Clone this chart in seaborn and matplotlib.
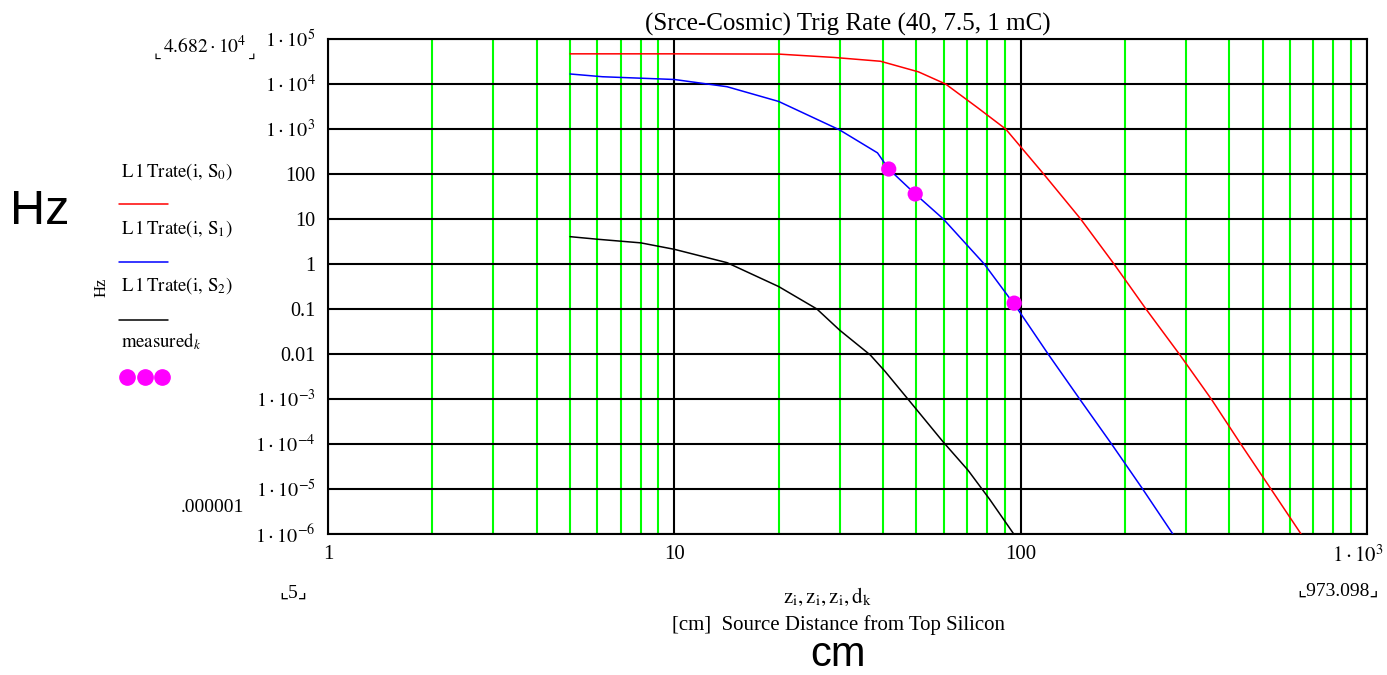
import numpy as np
import pandas as pd
import seaborn as sns
import matplotlib.pyplot as plt
from matplotlib.lines import Line2D
from matplotlib.transforms import ScaledTranslation

# curve readings (x in cm, rate in Hz)
x_s0 = [5, 10, 20, 28.8, 39.4, 50.7, 60.7, 75, 90.5, 116.5, 149, 186, 230, 287, 355, 432, 528, 645]
y_s0 = [4.68e4, 4.68e4, 4.62e4, 3.9e4, 3.2e4, 1.86e4, 1.0e4, 3.0e3, 1e3, 1e2, 10, 1, 0.1, 1e-2, 1e-3, 1e-4, 1e-5, 1e-6]

x_s1 = [5, 6.2, 10, 14.2, 20, 30, 38.6, 41.6, 49.6, 59.8, 78.5, 98, 120, 148, 183, 225, 275]
y_s1 = [1.67e4, 1.45e4, 1.26e4, 8.7e3, 4.1e3, 955, 295, 129, 36, 10, 1, 0.1, 1e-2, 1e-3, 1e-4, 1e-5, 1e-6]

x_s2 = [5, 6, 8, 10, 14.2, 20, 25.8, 30, 36.8, 40.6, 47.5, 59.8, 70.5, 81.5, 95.5]
y_s2 = [4.05, 3.55, 2.95, 2.12, 1.07, 0.316, 0.1, 0.034, 0.0095, 0.0041, 9.5e-4, 1.1e-4, 2.6e-5, 5.8e-6, 1e-6]

d_meas = [41.6, 49.6, 95.8]
r_meas = [129, 36, 0.135]

y_ticks = [1e5, 1e4, 1e3, 100, 10, 1, 0.1, 0.01, 1e-3, 1e-4, 1e-5, 1e-6]
y_labels = [r'$1\cdot10^{5}$', r'$1\cdot10^{4}$', r'$1\cdot10^{3}$', '100', '10', '1',
            '0.1', '0.01', r'$1\cdot10^{-3}$', r'$1\cdot10^{-4}$', r'$1\cdot10^{-5}$', r'$1\cdot10^{-6}$']
x_ticks = [1, 10, 100, 1000]
x_labels = ['1', '10', '100', r'$1\cdot10^{3}$']
x_minor = [m * d for d in (1, 10, 100) for m in range(2, 10)]

sns.set_theme(style='white')
plt.rcParams['font.family'] = ['Liberation Serif', 'DejaVu Sans']
plt.rcParams['mathtext.fontset'] = 'stix'
plt.rcParams['text.color'] = 'black'
plt.rcParams['xtick.color'] = 'black'
plt.rcParams['ytick.color'] = 'black'

W, H = 1387, 675
fig = plt.figure(figsize=(W / 100, H / 100), dpi=100)
L, R, T, B = 328, 1367, 39, 534
ax = fig.add_axes([L / W, 1 - B / H, (R - L) / W, (B - T) / H])

df0 = pd.DataFrame({'x': x_s0, 'y': y_s0})
df1 = pd.DataFrame({'x': x_s1, 'y': y_s1})
df2 = pd.DataFrame({'x': x_s2, 'y': y_s2})
dfm = pd.DataFrame({'x': d_meas, 'y': r_meas})

sns.lineplot(data=df0, x='x', y='y', color='#ff0000', lw=1.1, ax=ax, zorder=3)
sns.lineplot(data=df1, x='x', y='y', color='#0000ff', lw=1.1, ax=ax, zorder=3)
sns.lineplot(data=df2, x='x', y='y', color='black', lw=1.1, ax=ax, zorder=3)
sns.scatterplot(data=dfm, x='x', y='y', color='#ff00ff', s=120, edgecolor='none', ax=ax, zorder=4)

ax.set_xscale('log')
ax.set_yscale('log')
ax.set_xlim(1, 1000)
ax.set_ylim(1e-6, 1e5)
ax.set_xticks(x_ticks)
ax.set_xticklabels(x_labels)
ax.set_xticks(x_minor, minor=True)
ax.set_xticklabels([], minor=True)
ax.set_yticks(y_ticks)
ax.set_yticklabels(y_labels)
ax.yaxis.set_minor_locator(plt.NullLocator())
ax.tick_params(which='both', length=0)
ax.tick_params(axis='y', pad=9, labelsize=14.5)
ax.tick_params(axis='x', pad=8, labelsize=15)
# last x label sits against the right edge, as in the original
last = ax.get_xticklabels()[-1]
last.set_ha('right')
last.set_transform(last.get_transform() + ScaledTranslation(0.17, 0, fig.dpi_scale_trans))
ax.grid(which='minor', axis='x', color='#00ff00', lw=1.5)
ax.grid(which='major', axis='both', color='black', lw=1.5)
ax.set_axisbelow(True)
for sp in ax.spines.values():
    sp.set_color('black')
    sp.set_linewidth(1.5)
ax.set_xlabel('')
ax.set_ylabel('')
ax.set_title('(Srce-Cosmic) Trig Rate (40, 7.5, 1 mC)', fontsize=18, pad=6)


def px(x, y):
    return x / W, 1 - y / H


# Mathcad-style legend at the left
leg_items = [
    (r'$\mathrm{L\,1\,Trate}\left(\mathrm{i},\,\mathrm{S}_{0}\right)$', 172, '#ff0000', 204),
    (r'$\mathrm{L\,1\,Trate}\left(\mathrm{i},\,\mathrm{S}_{1}\right)$', 229, '#0000ff', 262),
    (r'$\mathrm{L\,1\,Trate}\left(\mathrm{i},\,\mathrm{S}_{2}\right)$', 286, 'black', 320),
]
for txt, ty, col, ly in leg_items:
    fig.text(*px(121, ty), txt, fontsize=13.5, ha='left', va='center')
    fig.add_artist(Line2D([119 / W, 168 / W], [1 - ly / H, 1 - ly / H], color=col, lw=1.1))
fig.text(*px(121, 342), r'$\mathrm{measured}_{k}$', fontsize=13.5, ha='left', va='center')
for dx in (127, 145, 162):
    fig.add_artist(Line2D([dx / W], [1 - 377 / H], marker='o', ms=11, color='#ff00ff', lw=0))
fig.text(*px(102, 287), 'Hz', fontsize=12, rotation=90, ha='center', va='center')

# axis limit annotations
fig.text(*px(157, 53), '⌞', fontsize=12, family='DejaVu Sans', ha='center', va='center')
fig.text(*px(205, 46), r'$4.682\cdot10^{4}$', fontsize=14, ha='center', va='center')
fig.text(*px(252, 53), '⌟', fontsize=12, family='DejaVu Sans', ha='center', va='center')
fig.text(*px(212, 508), '.000001', fontsize=14, ha='center', va='center')
fig.text(*px(293, 593), '⌞5⌟', fontsize=14, ha='center', va='center')
fig.text(*px(1338, 591), '⌞973.098⌟', fontsize=14, ha='center', va='center')

# axis titles
fig.text(*px(827, 597), r'$\mathrm{z}_{\mathrm{i}},\mathrm{z}_{\mathrm{i}},\mathrm{z}_{\mathrm{i}},\mathrm{d}_{\mathrm{k}}$',
         fontsize=15, ha='center', va='center')
fig.text(*px(838, 625), '[cm]  Source Distance from Top Silicon', fontsize=15, ha='center', va='center')

fig.text(*px(40, 212), 'Hz', fontsize=35, family='Liberation Sans', ha='center', va='center')
fig.text(*px(838, 666), 'cm', fontsize=30, family='Liberation Sans', ha='center', va='baseline')

fig.savefig('out.png', dpi=100, facecolor='white')
